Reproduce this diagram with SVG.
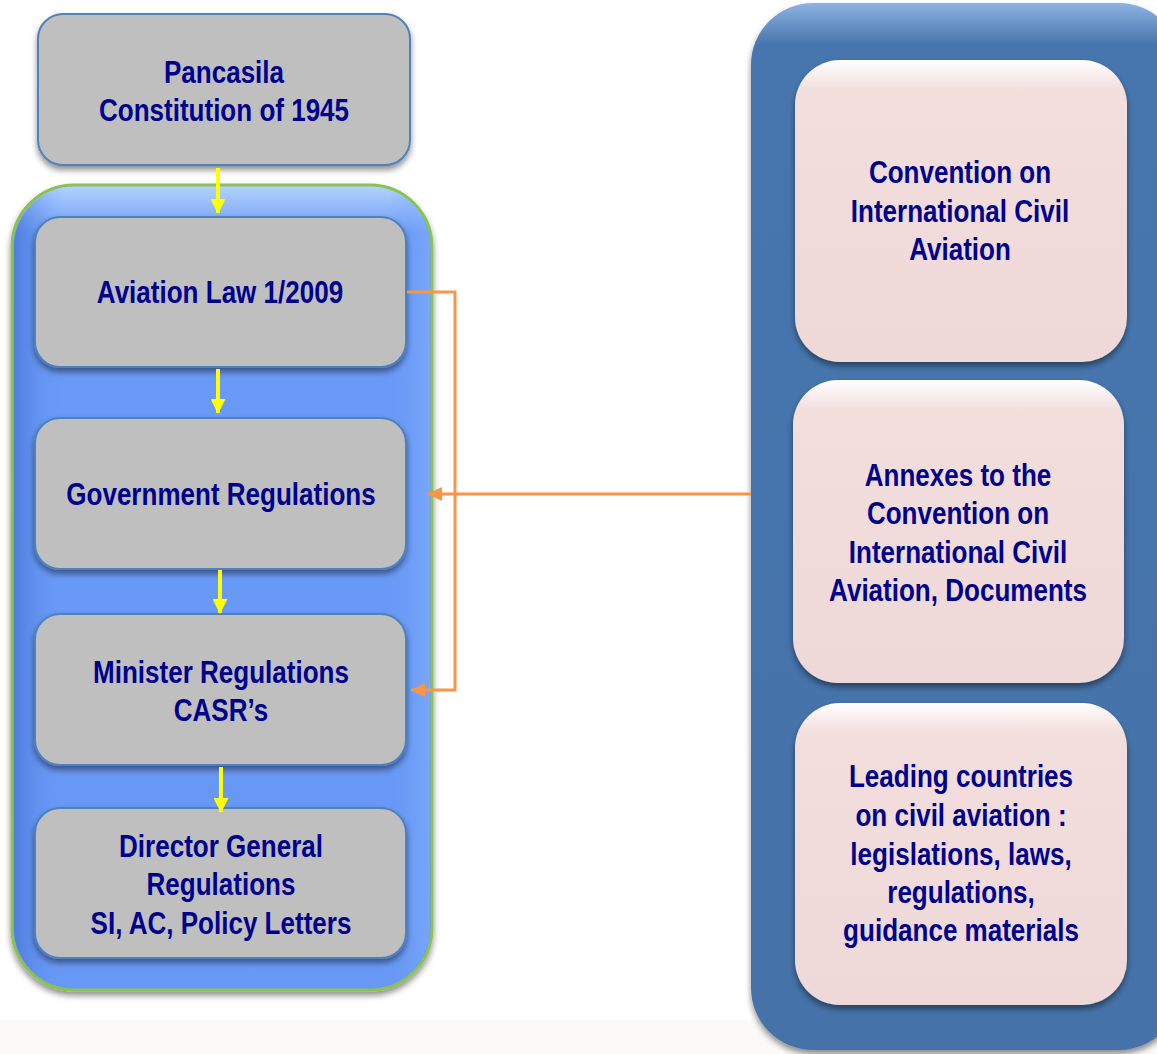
<svg xmlns="http://www.w3.org/2000/svg" width="1157" height="1054" viewBox="0 0 1157 1054">
<defs>
<style>
.t{font-family:"Liberation Sans Narrow","Liberation Sans",Arial,sans-serif;font-weight:bold;font-size:31px;fill:#00008F;text-anchor:middle}
.gray{fill:#BFBFBF;stroke:#4F81BD;stroke-width:2}
.pink{fill:url(#pinkG)}
.yl{stroke:#FFFF00;stroke-width:4;fill:none;marker-end:url(#ya)}
.or{stroke:#F79646;stroke-width:3;fill:none;marker-end:url(#oa)}
</style>
<linearGradient id="pinkG" x1="0" y1="0" x2="0" y2="1">
<stop offset="0" stop-color="#FFFFFF"/>
<stop offset="0.1" stop-color="#F2DEDD"/>
<stop offset="1" stop-color="#EFD9D8"/>
</linearGradient>
<linearGradient id="blueL" x1="0" y1="0" x2="0" y2="1">
<stop offset="0" stop-color="#B3D4FF"/>
<stop offset="0.06" stop-color="#6A9AF7"/>
<stop offset="1" stop-color="#6798F5"/>
</linearGradient>
<linearGradient id="blueLx" x1="0" y1="0" x2="1" y2="0">
<stop offset="0" stop-color="#3F6ACB" stop-opacity="0.6"/>
<stop offset="0.12" stop-color="#6A9AF7" stop-opacity="0"/>
<stop offset="0.9" stop-color="#6A9AF7" stop-opacity="0"/>
<stop offset="1" stop-color="#8AB4FF" stop-opacity="0.5"/>
</linearGradient>
<linearGradient id="blueR" x1="0" y1="0" x2="0" y2="1">
<stop offset="0" stop-color="#8DB3E2"/>
<stop offset="0.04" stop-color="#4675AE"/>
<stop offset="1" stop-color="#4472A8"/>
</linearGradient>
<filter id="sh" x="-10%" y="-10%" width="120%" height="125%">
<feGaussianBlur in="SourceAlpha" stdDeviation="3"/>
<feOffset dx="0" dy="4" result="b"/>
<feComponentTransfer><feFuncA type="linear" slope="0.45"/></feComponentTransfer>
<feMerge><feMergeNode/><feMergeNode in="SourceGraphic"/></feMerge>
</filter>
<marker id="ya" viewBox="0 0 15 15" refX="14" refY="7.5" markerWidth="15" markerHeight="15" orient="auto" markerUnits="userSpaceOnUse">
<path d="M0,0 L15,7.5 L0,15 z" fill="#FFFF00"/>
</marker>
<marker id="oa" viewBox="0 0 15 14" refX="14" refY="7" markerWidth="15" markerHeight="14" orient="auto" markerUnits="userSpaceOnUse">
<path d="M0,0 L15,7 L0,14 z" fill="#F79646"/>
</marker>
</defs>
<rect width="1157" height="1054" fill="#FFFFFF"/>
<rect y="1020" width="1157" height="34" fill="#FBFAF9"/>

<g id="container-left">
<rect x="12" y="185" width="420" height="805" rx="62" fill="url(#blueL)" stroke="#8CC152" stroke-width="3" filter="url(#sh)"/>
<rect x="14" y="187" width="416" height="801" rx="60" fill="url(#blueLx)"/>
</g>

<g id="container-right">
<rect x="751" y="3" width="430" height="1047" rx="62" fill="url(#blueR)" filter="url(#sh)"/>
</g>

<g id="pancasila">
<rect class="gray" x="38" y="14" width="372" height="151" rx="25" filter="url(#sh)"/>
<g transform="translate(224 0) scale(0.84 1)">
<text class="t" x="0" y="83">Pancasila</text>
<text class="t" x="0" y="121">Constitution of 1945</text>
</g>
</g>

<g id="aviation-law">
<rect class="gray" x="35" y="217" width="371" height="150" rx="25" filter="url(#sh)"/>
<g transform="translate(220 0) scale(0.84 1)">
<text class="t" x="0" y="303">Aviation Law 1/2009</text>
</g>
</g>

<g id="gov-reg">
<rect class="gray" x="35" y="418" width="371" height="151" rx="25" filter="url(#sh)"/>
<g transform="translate(221 0) scale(0.84 1)">
<text class="t" x="0" y="505">Government Regulations</text>
</g>
</g>

<g id="minister-reg">
<rect class="gray" x="35" y="614" width="371" height="151" rx="25" filter="url(#sh)"/>
<g transform="translate(221 0) scale(0.84 1)">
<text class="t" x="0" y="683">Minister Regulations</text>
<text class="t" x="0" y="721">CASR’s</text>
</g>
</g>

<g id="dg-reg">
<rect class="gray" x="35" y="808" width="371" height="150" rx="25" filter="url(#sh)"/>
<g transform="translate(221 0) scale(0.84 1)">
<text class="t" x="0" y="857">Director General</text>
<text class="t" x="0" y="895">Regulations</text>
<text class="t" x="0" y="934">SI, AC, Policy Letters</text>
</g>
</g>

<g id="convention">
<rect class="pink" x="795" y="60" width="332" height="302" rx="45" filter="url(#sh)"/>
<g transform="translate(960 0) scale(0.84 1)">
<text class="t" x="0" y="183">Convention on</text>
<text class="t" x="0" y="222">International Civil</text>
<text class="t" x="0" y="260">Aviation</text>
</g>
</g>

<g id="annexes">
<rect class="pink" x="793" y="380" width="331" height="303" rx="45" filter="url(#sh)"/>
<g transform="translate(958 0) scale(0.84 1)">
<text class="t" x="0" y="486">Annexes to the</text>
<text class="t" x="0" y="524">Convention on</text>
<text class="t" x="0" y="563">International Civil</text>
<text class="t" x="0" y="601">Aviation, Documents</text>
</g>
</g>

<g id="leading">
<rect class="pink" x="795" y="703" width="332" height="302" rx="45" filter="url(#sh)"/>
<g transform="translate(961 0) scale(0.84 1)">
<text class="t" x="0" y="787">Leading countries</text>
<text class="t" x="0" y="826">on civil aviation :</text>
<text class="t" x="0" y="865">legislations, laws,</text>
<text class="t" x="0" y="903">regulations,</text>
<text class="t" x="0" y="941">guidance materials</text>
</g>
</g>

<g id="connectors">
<path class="yl" d="M218,168 V213"/>
<path class="yl" d="M218,369 V413"/>
<path class="yl" d="M220,570 V613"/>
<path class="yl" d="M221,767 V812"/>
<path class="or" d="M407,292 H455 V690 H411"/>
<path class="or" d="M751,494 H428"/>
</g>
</svg>
